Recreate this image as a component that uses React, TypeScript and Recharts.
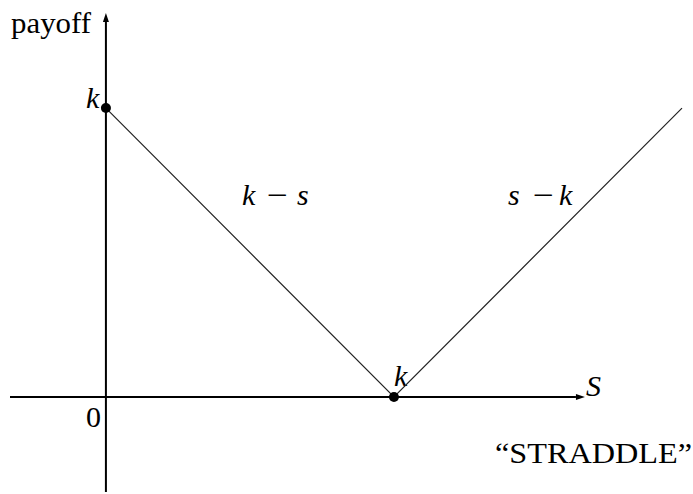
import { LineChart, Line, XAxis, YAxis, ReferenceLine, Customized } from 'recharts';

// straddle payoff |s - k|, with k = 1
const spotPrices = [0, 1, 2];
const payoffs = [1, 0, 1];
const dotIndexes = [0, 1];

const data = spotPrices.map((s, i) => ({ s, payoff: payoffs[i] }));

const serif = '"Liberation Serif", "DejaVu Serif", serif';

function Arrow(props: any) {
  const { x1, y1, x2, y2 } = props;
  const dx = x2 - x1;
  const dy = y2 - y1;
  const len = Math.sqrt(dx * dx + dy * dy) || 1;
  const ux = dx / len;
  const uy = dy / len;
  const head = 9;
  const half = 3;
  const bx = x2 - ux * head;
  const by = y2 - uy * head;
  const pts = [
    `${x2},${y2}`,
    `${bx - uy * half},${by + ux * half}`,
    `${bx + uy * half},${by - ux * half}`,
  ].join(' ');
  return (
    <g>
      <line x1={x1} y1={y1} x2={bx} y2={by} stroke="#000" strokeWidth={2} />
      <polygon points={pts} fill="#000" />
    </g>
  );
}

function Dot(props: any) {
  const { cx, cy, index } = props;
  if (!dotIndexes.includes(index)) return <g key={index} />;
  return <circle key={index} cx={cx} cy={cy} r={5} fill="#000" />;
}

function Labels() {
  const it = { fontStyle: 'italic' as const };
  const minus = { textLength: 21, lengthAdjust: 'spacingAndGlyphs' as const };
  return (
    <g fontFamily={serif} fontSize={30} fill="#000">
      <text x={11} y={33} textLength={80} lengthAdjust="spacingAndGlyphs">payoff</text>
      <text x={86} y={108} {...it}>k</text>
      <text x={242} y={205} {...it}>k</text>
      <text x={267} y={205} {...minus}>−</text>
      <text x={297} y={205} {...it}>s</text>
      <text x={508} y={205} {...it}>s</text>
      <text x={533} y={205} {...minus}>−</text>
      <text x={559} y={205} {...it}>k</text>
      <text x={394} y={386} {...it}>k</text>
      <text x={586} y={396} {...it}>S</text>
      <text x={86} y={427}>0</text>
      <text x={495} y={463} textLength={197} lengthAdjust="spacingAndGlyphs">“STRADDLE”</text>
    </g>
  );
}

export default function App() {
  return (
    <div style={{ position: 'absolute', left: 0, top: 0, background: '#fff' }}>
      <LineChart width={693} height={494} data={data} margin={{ top: 13, right: 11, left: 10, bottom: 2 }}>
        <XAxis type="number" dataKey="s" domain={[-0.333, 2]} hide />
        <YAxis type="number" domain={[-0.329, 1.329]} hide />
        <ReferenceLine
          segment={[{ x: -0.333, y: 0 }, { x: 1.663, y: 0 }]}
          ifOverflow="visible"
          shape={Arrow}
        />
        <ReferenceLine
          segment={[{ x: 0, y: -0.329 }, { x: 0, y: 1.329 }]}
          ifOverflow="visible"
          shape={Arrow}
        />
        <Line
          type="linear"
          dataKey="payoff"
          stroke="#222"
          strokeWidth={1.2}
          dot={Dot}
          activeDot={false}
          isAnimationActive={false}
        />
        <Customized component={Labels} />
      </LineChart>
    </div>
  );
}
